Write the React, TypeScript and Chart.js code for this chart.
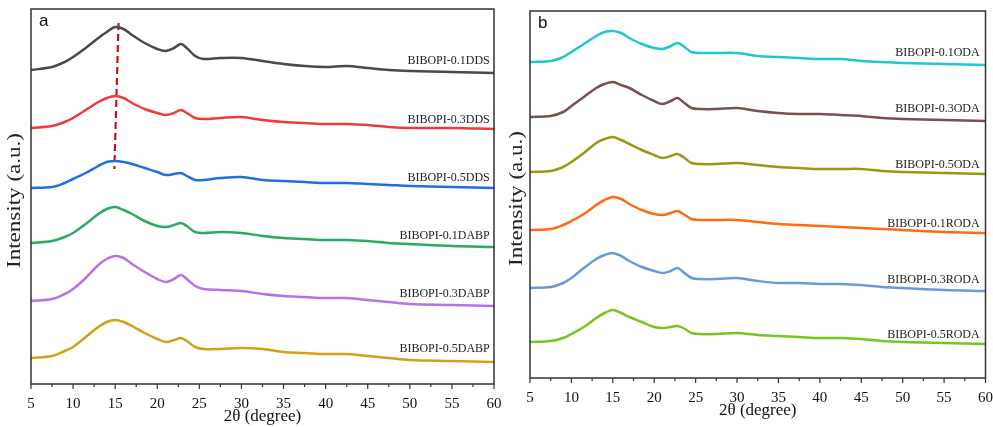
import React, { useEffect, useRef } from "react";
import { Chart, registerables } from "chart.js";

Chart.register(...registerables);

// 2θ positions (degree) at which the patterns were read
const twoTheta = [5, 7.5, 9, 10, 11.5, 13, 14, 15, 16, 17, 18.5, 20, 21, 22, 22.8, 23.5, 24.5, 25.5, 27.5, 30, 32.5, 35, 37.5, 40, 42.5, 45, 47.5, 50, 55, 60];
const xTicks = [5, 10, 15, 20, 25, 30, 35, 40, 45, 50, 55, 60];

// Panel a (stacked intensities, a.u.)
const dds01 = [314, 317, 322, 327, 336, 346, 352, 357, 355, 349, 341, 335, 333, 336, 340, 336, 328, 325, 326, 326, 323, 320, 318, 317, 318, 316, 314, 313, 312, 311];
const dds03 = [256, 258, 262, 266, 274, 282, 286, 288, 286, 281, 275, 271, 269, 271, 274, 271, 266, 265, 266, 267, 264, 262, 261, 260, 260, 259, 257, 256, 256, 255];
const dds05 = [196, 197, 201, 205, 211, 218, 222, 223, 222, 220, 216, 212, 209, 210, 211, 208, 204, 204, 206, 207, 204, 203, 202, 201, 201, 200, 199, 198, 197, 196];
const dabp01 = [141, 143, 147, 151, 160, 170, 175, 177, 174, 170, 163, 158, 157, 159, 161, 158, 152, 151, 152, 151, 148, 146, 145, 144, 144, 143, 141, 140, 138, 137];
const dabp03 = [83, 85, 90, 95, 106, 119, 125, 128, 126, 120, 112, 105, 102, 105, 109, 105, 98, 95, 94, 93, 90, 88, 87, 86, 86, 84, 82, 80, 79, 78];
const dabp05 = [26, 28, 33, 37, 47, 57, 62, 64, 62, 58, 51, 45, 42, 44, 46, 43, 37, 35, 35, 36, 35, 32, 31, 30, 30, 28, 26, 24, 23, 22];
const namesA = ["BIBOPI-0.1DDS", "BIBOPI-0.3DDS", "BIBOPI-0.5DDS", "BIBOPI-0.1DABP", "BIBOPI-0.3DABP", "BIBOPI-0.5DABP"];
const labelLevelsA = [323, 264, 206, 148, 90, 35];
const peakShiftX = [15.4, 14.9];
const peakShiftY = [361, 215];

// Panel b
const oda01 = [316, 317, 321, 326, 334, 342, 346, 347, 345, 340, 334, 330, 329, 332, 335, 332, 326, 325, 325, 325, 322, 321, 320, 319, 319, 317, 316, 315, 314, 313];
const oda03 = [261, 262, 266, 272, 281, 290, 294, 296, 293, 290, 283, 277, 274, 277, 280, 276, 270, 269, 269, 270, 267, 265, 264, 264, 263, 262, 260, 259, 258, 257];
const oda05 = [206, 207, 211, 216, 225, 235, 239, 241, 238, 234, 228, 223, 220, 222, 224, 221, 215, 214, 214, 215, 213, 211, 210, 209, 209, 209, 207, 206, 205, 204];
const roda01 = [148, 149, 153, 157, 164, 173, 178, 181, 179, 174, 168, 164, 163, 165, 167, 164, 159, 158, 158, 158, 156, 154, 153, 152, 151, 150, 149, 148, 146, 145];
const roda03 = [90, 91, 95, 100, 110, 119, 123, 125, 122, 117, 111, 107, 105, 107, 110, 106, 100, 99, 99, 100, 97, 95, 95, 94, 94, 93, 91, 90, 88, 87];
const roda05 = [36, 37, 40, 44, 51, 60, 65, 68, 65, 61, 56, 51, 50, 51, 52, 50, 45, 44, 44, 45, 43, 42, 41, 40, 40, 39, 37, 36, 35, 34];
const namesB = ["BIBOPI-0.1ODA", "BIBOPI-0.3ODA", "BIBOPI-0.5ODA", "BIBOPI-0.1RODA", "BIBOPI-0.3RODA", "BIBOPI-0.5RODA"];
const labelLevelsB = [325, 269, 213, 154, 98, 43];

const colorsA = ["#4a4a4a", "#f0393b", "#1f6fe0", "#2fa866", "#b374e6", "#d4a017"];
const colorsB = ["#1fc7d0", "#7a5050", "#999912", "#ff6a13", "#6a9ad2", "#7ac420"];

const SERIF = "'Liberation Serif', 'Times New Roman', serif";
const SANS = "'Liberation Sans', Arial, sans-serif";

type PanelCfg = {
  letter: string;
  series: number[][];
  names: string[];
  levels: number[];
  colors: string[];
  yMax: number;
  padTop: number;
  padBottom: number;
  padRight: number;
  yWidth: number;
  labelX: number;
  titleX: number;
  dashed: boolean;
};

function makeChart(canvas: HTMLCanvasElement, cfg: PanelCfg) {
  const datasets: any[] = cfg.series.map((s, i) => ({
    label: cfg.names[i],
    data: twoTheta.map((x, j) => ({ x, y: s[j] })),
    borderColor: cfg.colors[i],
    borderWidth: 2.5,
    pointRadius: 0,
    tension: 0.35,
    fill: false,
  }));
  if (cfg.dashed) {
    datasets.push({
      label: "shift",
      data: peakShiftX.map((x, j) => ({ x, y: peakShiftY[j] })),
      borderColor: "#cc1111",
      borderWidth: 2.2,
      borderDash: [7, 4],
      pointRadius: 0,
      tension: 0,
    });
  }
  const deco = {
    id: "deco" + cfg.letter,
    afterDraw(chart: any) {
      const ctx = chart.ctx;
      const a = chart.chartArea;
      const xs = chart.scales.x;
      const ys = chart.scales.y;
      ctx.save();
      // frame
      ctx.strokeStyle = "#333";
      ctx.lineWidth = 1.5;
      ctx.strokeRect(a.left, a.top, a.right - a.left, a.bottom - a.top);
      // ticks (major every 5, minor every 2.5)
      ctx.lineWidth = 1.2;
      for (let v = 5; v <= 60; v += 2.5) {
        const px = xs.getPixelForValue(v);
        const major = Math.abs(v % 5) < 1e-6;
        ctx.beginPath();
        ctx.moveTo(px, a.bottom);
        ctx.lineTo(px, a.bottom + (major ? 5 : 3));
        ctx.stroke();
      }
      // series labels
      ctx.fillStyle = "#222";
      ctx.font = "12px " + SERIF;
      ctx.textAlign = "right";
      ctx.textBaseline = "middle";
      cfg.names.forEach((n, i) => {
        ctx.fillText(n, xs.getPixelForValue(cfg.labelX), ys.getPixelForValue(cfg.levels[i]));
      });
      // panel letter
      ctx.fillStyle = "#111";
      ctx.font = "17px " + SANS;
      ctx.textAlign = "left";
      ctx.textBaseline = "alphabetic";
      ctx.fillText(cfg.letter, a.left + 8, a.top + 17);
      // y title
      ctx.save();
      ctx.translate(cfg.titleX, (a.top + a.bottom) / 2 + 4);
      ctx.rotate(-Math.PI / 2);
      ctx.scale(1.28, 1);
      ctx.font = "18px " + SERIF;
      ctx.textAlign = "center";
      ctx.textBaseline = "middle";
      ctx.fillStyle = "#222";
      ctx.fillText("Intensity (a.u.)", 0, 0);
      ctx.restore();
      ctx.restore();
    },
  };
  return new Chart(canvas, {
    type: "line",
    data: { datasets },
    options: {
      animation: false,
      responsive: false,
      devicePixelRatio: 1,
      layout: { padding: { top: cfg.padTop, bottom: cfg.padBottom, right: cfg.padRight, left: 0 } },
      plugins: { legend: { display: false }, tooltip: { enabled: false } },
      scales: {
        x: {
          type: "linear",
          min: 5,
          max: 60,
          afterBuildTicks: (s: any) => {
            s.ticks = xTicks.map((v) => ({ value: v }));
          },
          ticks: { font: { family: SERIF, size: 15 }, color: "#111", padding: 0, maxRotation: 0, autoSkip: false },
          grid: { display: true, drawOnChartArea: false, drawTicks: true, tickLength: 11, color: "rgba(0,0,0,0)" },
          border: { display: false },
          title: { display: true, text: "2θ (degree)", font: { family: SERIF, size: 17 }, color: "#111", padding: { top: 0, bottom: 0 } },
          afterFit: (s: any) => {
            s.height = 43;
          },
        },
        y: {
          type: "linear",
          min: 0,
          max: cfg.yMax,
          ticks: { display: false },
          grid: { display: false, drawTicks: false },
          border: { display: false },
          afterFit: (s: any) => {
            s.width = cfg.yWidth;
          },
        },
      },
    },
    plugins: [deco],
  });
}

function Panel(props: { cfg: PanelCfg; left: number; width: number }) {
  const ref = useRef<HTMLCanvasElement | null>(null);
  useEffect(() => {
    if (!ref.current) return;
    const ch = makeChart(ref.current, props.cfg);
    return () => ch.destroy();
  }, []);
  return (
    <div style={{ position: "absolute", left: props.left, top: 0, width: props.width, height: 427 }}>
      <canvas ref={ref} width={props.width} height={427} style={{ display: "block" }} />
    </div>
  );
}

const cfgA: PanelCfg = {
  letter: "a",
  series: [dds01, dds03, dds05, dabp01, dabp03, dabp05],
  names: namesA,
  levels: labelLevelsA,
  colors: colorsA,
  yMax: 375,
  padTop: 9,
  padBottom: 0,
  padRight: 16,
  yWidth: 31,
  labelX: 59.5,
  titleX: 15,
  dashed: true,
};

const cfgB: PanelCfg = {
  letter: "b",
  series: [oda01, oda03, oda05, roda01, roda03, roda05],
  names: namesB,
  levels: labelLevelsB,
  colors: colorsB,
  yMax: 367,
  padTop: 11,
  padBottom: 6,
  padRight: 7,
  yWidth: 30,
  labelX: 59.3,
  titleX: 17,
  dashed: false,
};

export default function App() {
  return (
    <div style={{ position: "absolute", left: 0, top: 0, width: 993, height: 427, background: "#fff" }}>
      <Panel cfg={cfgA} left={0} width={510} />
      <Panel cfg={cfgB} left={500} width={493} />
    </div>
  );
}
